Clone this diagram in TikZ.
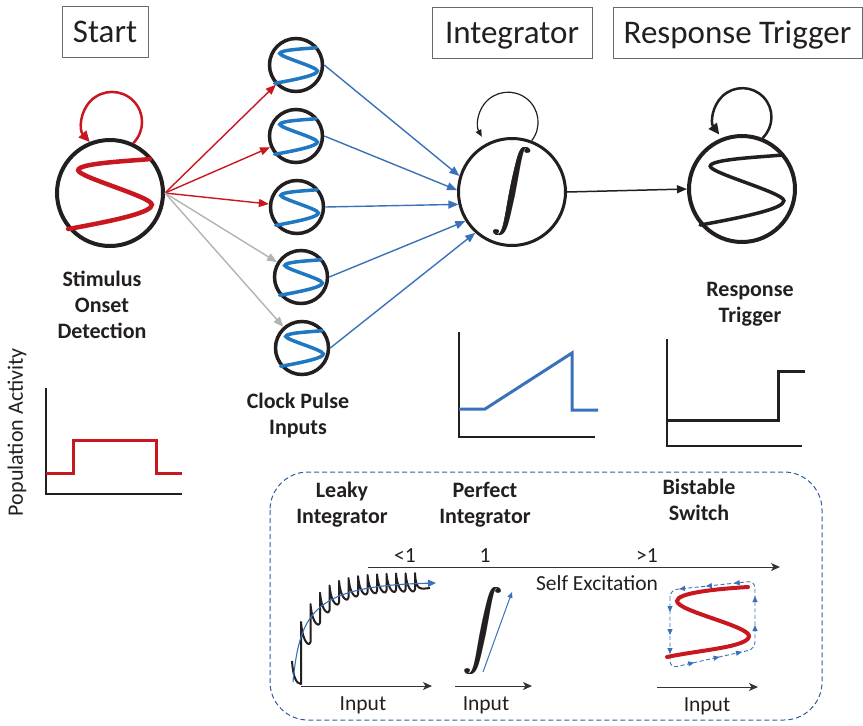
\documentclass[tikz,border=0pt]{standalone}
\usepackage{fontspec}
\setmainfont{Carlito}
\usepackage{graphicx}
\usetikzlibrary{arrows.meta,decorations.markings}
\definecolor{sred}{HTML}{C8171E}
\definecolor{sblue}{HTML}{1F78C1}
\definecolor{ablue}{HTML}{3B71B9}
\definecolor{agray}{HTML}{B3B3B3}
\definecolor{txt}{HTML}{231F20}
\definecolor{boxblue}{HTML}{2F5E9E}
\definecolor{boxgray}{HTML}{6A6A6A}
\definecolor{axgray}{HTML}{333333}
\newcommand{\bigintglyph}[1]{\resizebox*{!}{#1}{$\displaystyle\int$}}
\newcommand{\heavyint}[1]{\rlap{\bigintglyph{#1}}\kern0.6pt\rlap{\bigintglyph{#1}}\kern0.6pt\rlap{\bigintglyph{#1}}\kern0.6pt\bigintglyph{#1}}
\begin{document}
\begin{tikzpicture}[x=1pt,y=1pt,
  neuron/.style={circle, draw=txt, inner sep=0pt, fill=white},
  titlebox/.style={draw=boxgray, line width=1pt, font=\fontsize{33}{40}\selectfont, text=txt, inner sep=0pt, text height=21pt, text depth=0pt, minimum height=51pt},
  lab/.style={font=\bfseries\fontsize{22}{26}\selectfont, align=center, text=txt, inner sep=0pt},
  small/.style={font=\fontsize{21.5}{26}\selectfont, text=txt, inner sep=0pt},
  tip/.style={-{Triangle[length=10pt,width=8pt]}},
  redarrow/.style={sred, line width=1.4pt, tip},
  grayarrow/.style={agray, line width=1.4pt, tip},
  bluearrow/.style={ablue, line width=1.4pt, tip},
  blackarrow/.style={txt, line width=1.5pt, tip},
  axisarrow/.style={axgray, line width=1pt, -{Stealth[length=9pt,width=8pt,inset=2.5pt]}},
  plotaxis/.style={txt, line width=2.5pt},
  scurve/.pic={\draw[line cap=round] (0.75,0.64) .. controls (0.3,0.6) and (-0.6,0.56) .. (-0.6,0.43) .. controls (-0.6,0.30) and (0.79,-0.07) .. (0.79,-0.22) .. controls (0.79,-0.36) and (0.2,-0.5) .. (-0.79,-0.68);}
]
\useasboundingbox (0,0) rectangle (863,-726);

% title boxes
\node[titlebox, minimum width=86pt] (tstart) at (105,-32) {Start};
\node[titlebox, minimum width=160pt] (tint) at (512,-33) {Integrator};
\node[titlebox, minimum width=249pt] (tresp) at (737.5,-33) {Response Trigger};

% stimulus onset neuron
\node[neuron, line width=4pt, minimum size=106pt] (stim) at (110,-193) {};
\pic[sred, line width=4.5pt, scale=53] at (stim) {scurve};
\draw[sred, line width=2.5pt, -{Triangle[length=11pt,width=10pt]}] (stim.65) arc[start angle=-45, end angle=222, radius=30];

% clock neurons
\foreach \n/\x/\y in {1/296/65, 2/296/136, 3/297/207, 4/301/277, 5/302/348}{
  \node[neuron, line width=3.5pt, minimum size=53pt] (c\n) at (\x,-\y) {};
  \pic[sblue, line width=3.5pt, scale=27] at (c\n) {scurve};
}
\foreach \n in {1,2,3} \draw[redarrow] (stim.east) -- (c\n);
\foreach \n in {4,5} \draw[grayarrow] (stim.east) -- (c\n);

% integrator neuron
\node[neuron, line width=3pt, minimum size=107pt, text=txt] (integ) at (512,-192) {\heavyint{88pt}};
\draw[txt, line width=1.2pt, -{Triangle[length=7pt,width=6pt]}] (integ.69) arc[start angle=-38, end angle=209, radius=30];
\foreach \n/\a in {1/163, 2/178, 3/193, 4/212, 5/228} \draw[bluearrow] (c\n.east) -- (integ.\a);

% response neuron
\node[neuron, line width=4pt, minimum size=106pt] (resp) at (742,-189) {};
\pic[txt, line width=3.5pt, scale=53] at (resp) {scurve};
\draw[txt, line width=2.5pt, -{Triangle[length=11pt,width=10pt]}] (resp.68) arc[start angle=-46, end angle=217, radius=29];
\draw[blackarrow] (integ.east) -- (resp.west);

% labels
\node[lab] (lstim) at (102,-305) {Stimulus\\Onset\\Detection};
\node[lab] (lclock) at (298,-416) {Clock Pulse\\Inputs};
\node[lab] (lresp) at (750,-304) {Response\\Trigger};
\node[small, font=\fontsize{22}{26}\selectfont, rotate=90] (ylab) at (17,-432) {Population Activity};

% small plots
\draw[plotaxis] (46,-388) -- (46,-494) -- (182,-494);
\draw[sred, line width=3pt] (46,-473) -- (73,-473) -- (73,-440) -- (156,-440) -- (156,-473) -- (182,-473);

\draw[plotaxis] (459,-332) -- (459,-437) -- (595,-437);
\draw[ablue, line width=3pt] (459,-409) -- (485,-409) -- (572,-353) -- (572,-410) -- (598,-410);

\draw[plotaxis] (667,-339) -- (667,-446) -- (802,-446);
\draw[txt, line width=3pt] (667,-420) -- (778,-420) -- (778,-371) -- (805,-371);

% dashed box
\draw[boxblue, line width=1pt, dash pattern=on 5pt off 3pt, rounded corners=38pt] (270,-472) rectangle (822,-720);

\node[lab] (lleaky) at (342,-505) {Leaky\\Integrator};
\node[lab] (lperf) at (485,-505) {Perfect\\Integrator};
\node[lab] (lbist) at (699,-500) {Bistable\\Switch};

% self excitation axis
\coordinate (se0) at (368,-567);
\coordinate (se1) at (780,-567);
\draw[axisarrow] (se0) -- (se1);
\node[small] (lt1) at (405,-556) {<1};
\node[small] (eq1) at (485,-556) {1};
\node[small] (gt1) at (647,-556) {>1};
\node[small] (selfex) at (597,-583) {Self Excitation};

% leaky integrator plot
\coordinate (la0) at (301,-686);
\coordinate (la1) at (432,-686);
\draw[axisarrow] (la0) -- (la1);
\node[small] (in1) at (363,-705) {Input};
\draw[txt, line width=2pt, line join=round] (292,-661) .. controls (293,-676) and (296,-684) .. (301,-684) -- (301,-622)
  \foreach \i in {0,...,11}{
    .. controls ({301+9.5*\i+2},{-(590+53*exp(-\i/2.2))-3}) and ({301+9.5*(\i+1)},{-(590+53*exp(-\i/2.2))-3}) .. ({301+9.5*(\i+1)},{-(590+53*exp(-\i/2.2))+1})
    -- ({301+9.5*(\i+1)},{-(573+49*exp(-(\i+1)/2.2))})
  }
  .. controls (416,-591) and (420,-589) .. (430,-588);
\draw[ablue, line width=1.1pt, -{Triangle[length=8pt,width=7pt]}] (293,-682) .. controls (300,-610) and (315,-586) .. (436,-583);

% perfect integrator plot
\coordinate (pa0) at (455,-686);
\coordinate (pa1) at (532,-686);
\draw[axisarrow] (pa0) -- (pa1);
\node[small] (in2) at (486,-705) {Input};
\node[inner sep=0pt, text=txt] (pint) at (483,-631) {\heavyint{87pt}};
\coordinate (pb0) at (483,-672);
\coordinate (pb1) at (512,-592);
\draw[ablue, line width=1pt, -{Triangle[length=6pt,width=5pt]}] (pb0) -- (pb1);

% bistable plot
\coordinate (ba0) at (657,-687);
\coordinate (ba1) at (758,-687);
\draw[axisarrow] (ba0) -- (ba1);
\node[small] (in3) at (707,-706) {Input};
\draw[ablue, line width=0.9pt, dash pattern=on 4pt off 2.5pt, rounded corners=7pt,
  decoration={markings,
    mark=at position 15pt with {\arrow{Triangle[length=6pt,width=5pt]}},
    mark=at position 38pt with {\arrow{Triangle[length=6pt,width=5pt]}},
    mark=at position 57pt with {\arrow{Triangle[length=6pt,width=5pt]}},
    mark=at position 92pt with {\arrow{Triangle[length=6pt,width=5pt]}},
    mark=at position 118pt with {\arrow{Triangle[length=6pt,width=5pt]}},
    mark=at position 141pt with {\arrow{Triangle[length=6pt,width=5pt]}},
    mark=at position 176pt with {\arrow{Triangle[length=6pt,width=5pt]}},
    mark=at position 205pt with {\arrow{Triangle[length=6pt,width=5pt]}},
    mark=at position 238pt with {\arrow{Triangle[length=6pt,width=5pt]}},
    mark=at position 266pt with {\arrow{Triangle[length=6pt,width=5pt]}},
    mark=at position 293pt with {\arrow{Triangle[length=6pt,width=5pt]}}},
  postaction={decorate}]
  (670,-590) -- (670,-668) -- (755,-649) -- (755,-581) -- cycle;
\draw[sred, line width=4pt, line cap=round] (748,-587) .. controls (715,-589) and (677,-593) .. (677,-601) .. controls (677,-611) and (749,-626) .. (749,-636) .. controls (749,-647) and (700,-650) .. (667,-657);
\end{tikzpicture}
\end{document}
